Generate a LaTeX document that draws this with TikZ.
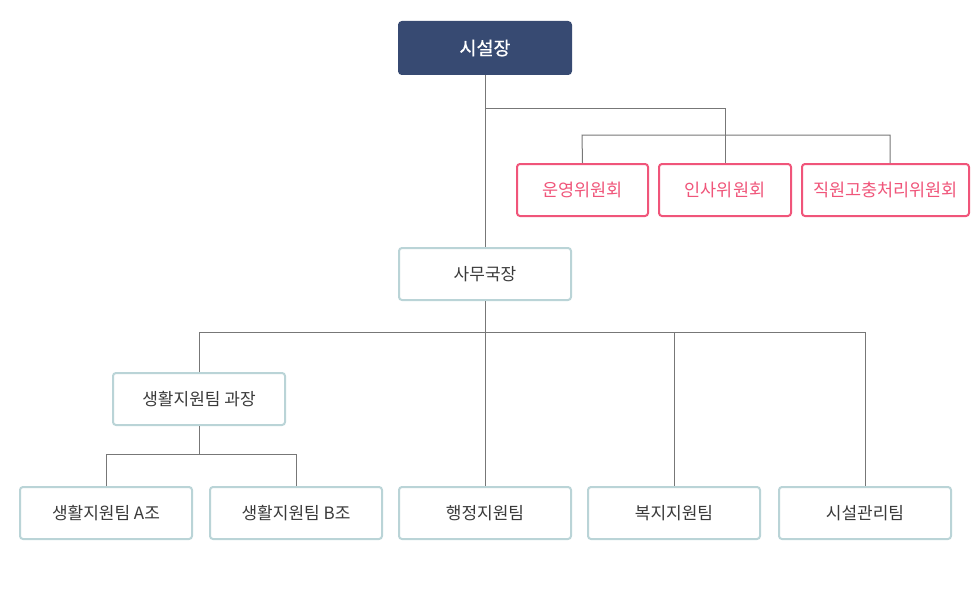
\documentclass[tikz,border=0pt]{standalone}
\usepackage{fontspec}
\setmainfont{Noto Sans CJK KR}
\newfontfamily\medfont[FakeBold=0.8]{Noto Sans CJK KR}
\definecolor{navy}{HTML}{374A72}
\definecolor{pinkc}{HTML}{F0557A}
\definecolor{tealb}{HTML}{BAD4D7}
\definecolor{txtg}{HTML}{3A3A3A}
\definecolor{lineg}{HTML}{777777}
\begin{document}
\begin{tikzpicture}[x=1pt,y=-1pt,
  box/.style={rounded corners=3pt, line width=2pt, minimum height=52pt, inner sep=0pt, anchor=center},
  headbox/.style={box, fill=navy, draw=navy, text=white, minimum width=172pt, font=\medfont\fontsize{18.5}{20}\selectfont},
  combox/.style={box, draw=pinkc, fill=white, text=pinkc, font=\fontsize{17.5}{20}\selectfont},
  orgbox/.style={box, draw=tealb, fill=white, text=txtg, minimum width=172pt, font=\fontsize{17}{20}\selectfont},
  conn/.style={draw=lineg, line width=1pt}]
\useasboundingbox (0,0) rectangle (972,610);
\coordinate (j1) at (485,108);
\coordinate (j2) at (725,108);
\coordinate (j4l) at (582,135);
\coordinate (j4r) at (890,135);
\coordinate (j6l) at (199,332);
\coordinate (j6r) at (865,332);
\coordinate (jw) at (674,332);
\coordinate (j7) at (199,454);
\coordinate (j8l) at (106,454);
\coordinate (j8r) at (296,454);

\node[headbox] (top) at (485,48) {시설장};
\node[combox, minimum width=131pt] (c1) at (582.5,190) {운영위원회};
\node[combox, minimum width=132pt] (c2) at (725,190) {인사위원회};
\node[combox, minimum width=167pt] (c3) at (885.5,190) {직원고충처리위원회};
\node[orgbox] (office) at (485,274) {사무국장};
\node[orgbox] (life) at (199,399) {생활지원팀 과장};
\node[orgbox] (teamA) at (106,513) {생활지원팀 A조};
\node[orgbox] (teamB) at (296,513) {생활지원팀 B조};
\node[orgbox] (admin) at (485,513) {행정지원팀};
\node[orgbox] (welfare) at (674,513) {복지지원팀};
\node[orgbox] (facility) at (865,513) {시설관리팀};

\path[conn] (top.south) -- (office.north);
\path[conn] (j1) -- (j2) -- (c2.north);
\path[conn] (c1.north) -- (j4l) -- (j4r) -- (c3.north -| j4r);
\path[conn] (office.south) -- (admin.north);
\path[conn] (life.north) -- (j6l) -- (j6r) -- (facility.north);
\path[conn] (jw) -- (welfare.north);
\path[conn] (life.south) -- (j7);
\path[conn] (teamA.north) -- (j8l) -- (j8r) -- (teamB.north);
\end{tikzpicture}
\end{document}
